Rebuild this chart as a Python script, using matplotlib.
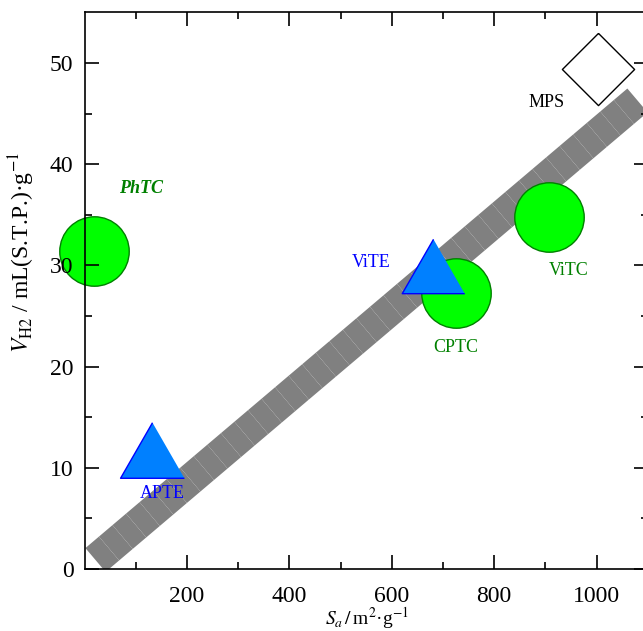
import matplotlib
matplotlib.use("Agg")
import matplotlib.pyplot as plt
from matplotlib.collections import LineCollection
import numpy as np

# ---- data ----
names = ["PhTC", "CPTC", "ViTC", "ViTE", "APTE", "MPS"]
sa = [18, 726, 908, 680, 131, 1002]
vh2 = [31.4, 27.3, 34.8, 29.9, 11.8, 49.4]
label_x = [111, 726, 945, 559, 152, 902]
label_y = [37.6, 21.9, 29.5, 30.3, 7.5, 46.1]
fit_x = [21.5, 1080]
fit_y = [0.89, 46.3]
x_ticks = [200, 400, 600, 800, 1000]
y_ticks = [0, 10, 20, 30, 40, 50]

plt.rcParams['font.family'] = ['Liberation Serif', 'DejaVu Serif']
plt.rcParams['mathtext.fontset'] = 'stix'

fig = plt.figure(figsize=(6.43, 6.31), dpi=100)
W, H = 643, 631
left_px, bottom_px = 84.5, 569
w_px = 1100 * 0.512
h_px = 55 * 10.12
ax = fig.add_axes([left_px / W, 1 - bottom_px / H, w_px / W, h_px / H])
ax.set_xlim(0, 1100)
ax.set_ylim(0, 55)
ax.set_axisbelow(False)

# fit band, drawn as many short butt-capped pieces (gives faint seams)
nseg = 40
bx = np.linspace(fit_x[0], fit_x[1], nseg + 1)
by = np.interp(bx, fit_x, fit_y)
segs = [[(bx[i], by[i]), (bx[i + 1], by[i + 1])] for i in range(nseg)]
lc = LineCollection(segs, colors='#808080', linewidths=22.5, capstyle='butt', zorder=1)
ax.add_collection(lc)

tri = [(0, 1), (-1.15, -1), (1.15, -1)]
dia = [(0, 1), (1, 0), (0, -1), (-1, 0), (0, 1)]
styles = {
    "PhTC": dict(marker='o', ms=50, mfc='#00ff00', mec='#008000'),
    "CPTC": dict(marker='o', ms=50, mfc='#00ff00', mec='#008000'),
    "ViTC": dict(marker='o', ms=50, mfc='#00ff00', mec='#008000'),
    "ViTE": dict(marker=tri, ms=45, mfc='#0080ff', mec='#0000ff'),
    "APTE": dict(marker=tri, ms=46, mfc='#0080ff', mec='#0000ff'),
    "MPS": dict(marker=dia, ms=52, mfc='white', mec='black'),
}
text_style = {
    "PhTC": dict(color='#008000', fontweight='bold', fontstyle='italic'),
    "CPTC": dict(color='#008000'),
    "ViTC": dict(color='#008000'),
    "ViTE": dict(color='#0000ff'),
    "APTE": dict(color='#0000ff'),
    "MPS": dict(color='black'),
}
for n, x, y, lx, ly in zip(names, sa, vh2, label_x, label_y):
    ax.plot([x], [y], ls='none', mew=1.0, clip_on=False, zorder=2, **styles[n])
    ax.text(lx, ly, n, ha='center', va='center', fontsize=13, zorder=4, **text_style[n])

ax.set_xticks(x_ticks)
ax.set_yticks(y_ticks)
ax.set_xticks(np.arange(100, 1100, 200), minor=True)
ax.set_yticks(np.arange(5, 55, 10), minor=True)
ax.tick_params(which='both', direction='in', top=True, right=True, labelsize=17, width=1.2)
ax.tick_params(which='major', length=10)
ax.tick_params(axis='x', which='major', pad=12.5)
ax.tick_params(axis='y', which='major', pad=8)
ax.tick_params(which='minor', length=5)
for s in ax.spines.values():
    s.set_linewidth(1.2)
    s.set_zorder(5)

fig.text(367 / W, 1 - 625 / H, r"$S_a\,/\,$m$^2$·g$^{-1}$", ha='center', va='baseline', fontsize=14)
fig.text(22 / W, 1 - 252 / H, r"$V_{\mathrm{H2}}$ / mL(S.T.P.)·g$^{-1}$", ha='center', va='center',
         rotation=90, fontsize=17)

fig.savefig("out.png", dpi=100)
